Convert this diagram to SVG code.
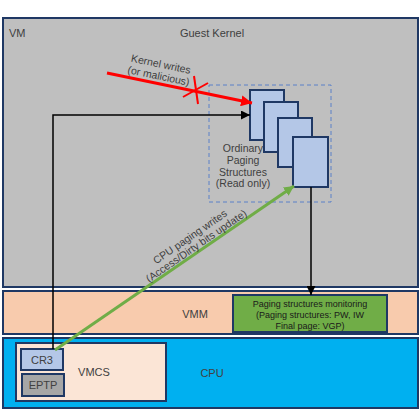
<svg xmlns="http://www.w3.org/2000/svg" width="420" height="420" viewBox="0 0 420 420">
<defs>
<style>
text{font-family:"Liberation Sans",Arial,sans-serif;fill:#404040}
.box{stroke:#1f3864;stroke-width:2}
.pg{fill:#b4c7e7;stroke:#1f3864;stroke-width:2}
.lbl{font-size:11px;text-anchor:middle}
.sm{font-size:9px;text-anchor:middle;fill:#1a1a1a}
.blk{fill:none;stroke:#000;stroke-width:1.5}
</style>
<marker id="ab" viewBox="0 0 10 10" refX="10" refY="5" markerUnits="userSpaceOnUse" markerWidth="9" markerHeight="9" orient="auto"><path d="M0,0L10,5L0,10z" fill="#000"/></marker>
<marker id="ar" viewBox="0 0 10 10" refX="10" refY="5" markerUnits="userSpaceOnUse" markerWidth="11" markerHeight="11" orient="auto"><path d="M0,0L10,5L0,10z" fill="#ff0000"/></marker>
<marker id="ag" viewBox="0 0 10 10" refX="10" refY="5" markerUnits="userSpaceOnUse" markerWidth="10" markerHeight="10" orient="auto"><path d="M0,0L10,5L0,10z" fill="#70ad47"/></marker>
</defs>
<rect width="420" height="420" fill="#fff"/>
<g id="vm">
<rect class="box" x="3" y="18" width="415" height="269" fill="#bfbfbf"/>
<text x="9" y="37" style="font-size:11px">VM</text>
<text class="lbl" x="212" y="37">Guest Kernel</text>
</g>
<g id="vmm">
<rect class="box" x="3" y="291" width="415" height="43" fill="#f8cbad"/>
<text class="lbl" x="195" y="318">VMM</text>
</g>
<g id="cpu">
<rect class="box" x="3" y="338" width="415" height="70" fill="#00b0f0"/>
<text class="lbl" x="212" y="377">CPU</text>
</g>
<g id="vmcs">
<rect class="box" x="16" y="343" width="150" height="58" fill="#fbe5d6"/>
<text class="lbl" x="94" y="376">VMCS</text>
</g>
<g id="cr3">
<rect class="box" x="21" y="349" width="42" height="21" fill="#b4c7e7"/>
<text class="lbl" x="42" y="364">CR3</text>
</g>
<g id="eptp">
<rect class="box" x="22" y="374" width="42" height="22" fill="#a6a6a6"/>
<text class="lbl" x="43" y="389">EPTP</text>
</g>
<g id="paging">
<rect x="209" y="85" width="122" height="117" fill="none" stroke="#5b80c8" stroke-width="1" stroke-dasharray="4 3"/>
<rect class="pg" x="250" y="90" width="34" height="50"/>
<rect class="pg" x="264" y="102" width="34" height="50"/>
<rect class="pg" x="278" y="118" width="34" height="49"/>
<rect class="pg" x="293" y="137" width="35" height="50"/>
<text class="lbl" x="243" style="font-size:10.5px"><tspan x="243" y="152">Ordinary</tspan><tspan x="243" y="164">Paging</tspan><tspan x="243" y="175.5">Structures</tspan><tspan x="243" y="187">(Read only)</tspan></text>
</g>
<g id="monitor">
<rect class="box" x="233" y="295" width="154" height="37" fill="#70ad47"/>
<text class="sm"><tspan x="310" y="307">Paging structures monitoring</tspan><tspan x="310" y="318">(Paging structures: PW, IW</tspan><tspan x="310" y="329">Final page: VGP)</tspan></text>
</g>
<g id="connectors">
<path class="blk" d="M53,349V115H250" marker-end="url(#ab)"/>
<path class="blk" d="M311,187V295" marker-end="url(#ab)"/>
<line x1="107" y1="73" x2="252" y2="103" stroke="#ff0000" stroke-width="3" marker-end="url(#ar)"/>
<line x1="183" y1="97" x2="208" y2="83" stroke="#ff0000" stroke-width="2"/>
<line x1="194" y1="76" x2="198" y2="104" stroke="#ff0000" stroke-width="2"/>
<line x1="55" y1="350" x2="294" y2="186" stroke="#70ad47" stroke-width="3" marker-end="url(#ag)"/>
<g transform="translate(157,83.3) rotate(11.7)">
<text class="lbl" style="font-size:10.5px"><tspan x="0" y="-16">Kernel writes</tspan><tspan x="0" y="-4">(or malicious)</tspan></text>
</g>
<g transform="translate(200,251.3) rotate(-34.5)">
<text class="lbl" style="font-size:10.5px"><tspan x="0" y="-14">CPU paging writes</tspan><tspan x="0" y="-3">(Access/Dirty bits update)</tspan></text>
</g>
</g>
</svg>
